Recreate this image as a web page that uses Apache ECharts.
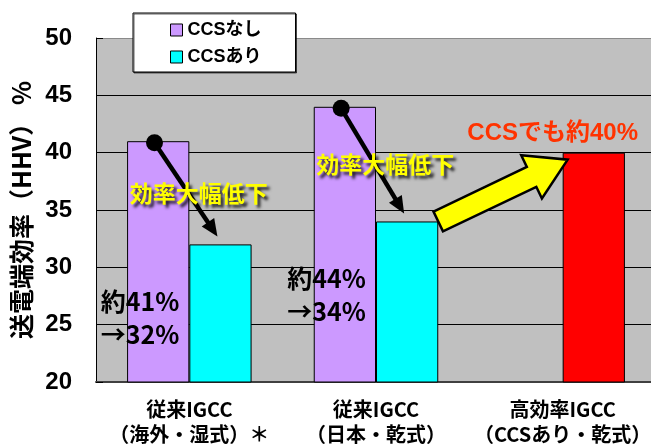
<!DOCTYPE html>
<html>
<head>
<meta charset="utf-8">
<script src="https://cdn.jsdelivr.net/npm/echarts@6/dist/echarts.min.js"></script>
<style>
  html, body { margin: 0; padding: 0; background: #fff; }
  #main { width: 651px; height: 446px; }
</style>
</head>
<body>
<div id="main"></div>
<script>
// Plant type categories (x axis)
const categories = ['従来IGCC\n（海外・湿式）＊', '従来IGCC\n（日本・乾式）', '高効率IGCC\n（CCSあり・乾式）'];
// Series names
const seriesNames = ['CCSなし', 'CCSあり'];
// Net efficiency (HHV, %) without CCS
const withoutCCS = [41, 44, null];
// Net efficiency (HHV, %) with CCS
const withCCS = [32, 34, 40];
// Y axis range
const yMin = 20, yMax = 50, yStep = 5;

const JP = '"Noto Sans CJK JP", sans-serif';
const LAT = '"Liberation Sans", "Noto Sans CJK JP", sans-serif';

const chart = echarts.init(document.getElementById('main'), null, { renderer: 'canvas' });

chart.setOption({
  animation: false,
  backgroundColor: '#ffffff',
  grid: {
    left: 96, top: 38, width: 560, height: 344,
    outerBoundsMode: 'none', containLabel: false,
    show: true, backgroundColor: '#C0C0C0', borderWidth: 0
  },
  legend: {
    data: seriesNames,
    orient: 'vertical',
    left: 133, top: 13,
    padding: [8, 34, 6, 37],
    itemWidth: 12, itemHeight: 12, itemGap: 9,
    icon: 'rect',
    backgroundColor: '#ffffff',
    borderColor: '#000000', borderWidth: 1,
    shadowColor: 'rgba(0,0,0,0.6)', shadowOffsetX: 1, shadowOffsetY: 1,
    itemStyle: { borderColor: '#000000', borderWidth: 1 },
    textStyle: { fontSize: 18, fontWeight: 'bold', fontFamily: LAT, color: '#000' }
  },
  xAxis: {
    type: 'category',
    data: categories,
    axisLine: { lineStyle: { color: '#404040', width: 2 } },
    axisTick: { inside: true, length: 7, lineStyle: { color: '#404040', width: 1.5 } },
    axisLabel: {
      interval: 0, margin: 15, color: '#000',
      fontSize: 20, fontWeight: 'bold', lineHeight: 25, fontFamily: JP
    },
    splitLine: { show: false }
  },
  yAxis: {
    type: 'value', min: yMin, max: yMax, interval: yStep,
    name: '送電端効率（HHV） %',
    nameLocation: 'middle', nameRotate: 90, nameGap: 61,
    nameTextStyle: { fontSize: 25, fontWeight: 'bold', fontFamily: JP, color: '#000' },
    axisLine: { show: true, lineStyle: { color: '#000', width: 1 } },
    axisTick: { show: true, inside: true, length: 7, lineStyle: { color: '#000' } },
    axisLabel: { fontSize: 24, fontWeight: 'bold', fontFamily: LAT, color: '#000', margin: 24 },
    splitLine: {
      lineStyle: { color: ['#000', '#000', '#000', '#000', '#000', '#000', '#8a8a8a'], width: 1 }
    }
  },
  series: [
    {
      name: seriesNames[0], type: 'bar',
      data: withoutCCS,
      barGap: 0, barCategoryGap: '33.3%',
      itemStyle: { color: '#CC99FF', borderColor: '#000', borderWidth: 1 }
    },
    {
      name: seriesNames[1], type: 'bar',
      data: withCCS.map((v, i) => i === 2 ? { value: v, itemStyle: { color: '#FF0000' } } : v),
      barGap: 0, barCategoryGap: '33.3%',
      itemStyle: { color: '#00FFFF', borderColor: '#000', borderWidth: 1 }
    }
  ]
});

// Annotation overlay placed from the axes' own scales
const cx = i => chart.convertToPixel({ xAxisIndex: 0 }, categories[i]);
const py = v => chart.convertToPixel({ yAxisIndex: 0 }, v);
const band = cx(1) - cx(0);
const barW = band / 3;
const leftBarX = i => cx(i) - barW / 2;
const rightBarX = i => cx(i) + barW / 2;

const graphics = [];

function blackArrow(S, T) {
  const dx = T[0] - S[0], dy = T[1] - S[1];
  const L = Math.hypot(dx, dy);
  const ux = dx / L, uy = dy / L, nx = -uy, ny = ux;
  const headL = 17, headW = 7.5;
  const bx = T[0] - ux * headL, by = T[1] - uy * headL;
  graphics.push({
    type: 'line', z: 100,
    shape: { x1: S[0], y1: S[1], x2: T[0] - ux * 12, y2: T[1] - uy * 12 },
    style: { stroke: '#000', lineWidth: 4.5 }
  });
  graphics.push({
    type: 'polygon', z: 100,
    shape: { points: [[T[0], T[1]], [bx + nx * headW, by + ny * headW], [bx - nx * headW, by - ny * headW]] },
    style: { fill: '#000' }
  });
  graphics.push({
    type: 'circle', z: 101,
    shape: { cx: S[0], cy: S[1], r: 8.5 },
    style: { fill: '#000' }
  });
}

for (let i = 0; i < categories.length; i++) {
  if (withoutCCS[i] == null) continue;
  const a = withoutCCS[i], b = withCCS[i];
  blackArrow([leftBarX(i) - 0.02 * band, py(a) + 1.5], [rightBarX(i) - 3, py(b) - 8]);

  graphics.push({
    type: 'text', z: 102,
    style: {
      text: '効率大幅低下', x: cx(i) + 0.05 * band, y: py((a + b) / 2),
      fill: '#FFFF00', font: 'bold 23px ' + JP,
      align: 'center', verticalAlign: 'middle',
      textShadowColor: 'rgba(0,0,0,0.85)', textShadowBlur: 3,
      textShadowOffsetX: 3, textShadowOffsetY: 3
    }
  });

  const tx = cx(i) - 0.475 * band, ty = py(b - 5);
  graphics.push({
    type: 'text', z: 102,
    style: { text: '約' + a + '%', x: tx, y: ty, fill: '#000', font: 'bold 25px ' + JP, align: 'left', verticalAlign: 'middle' }
  });
  graphics.push({
    type: 'text', z: 102,
    style: { text: '→' + b + '%', x: tx, y: ty + 33, fill: '#000', font: 'bold 25px ' + JP, align: 'left', verticalAlign: 'middle' }
  });
}

// Big yellow arrow from the dry-type CCS bar to the high-efficiency bar
(function () {
  const A = [rightBarX(1) + barW / 2, py(withCCS[1])];
  const B = [rightBarX(2) - barW / 2 + 5, py(withCCS[2]) + 7];
  const dx = B[0] - A[0], dy = B[1] - A[1];
  const L = Math.hypot(dx, dy);
  const ux = dx / L, uy = dy / L, nx = -uy, ny = ux;
  const sw = 11, hw = 24, hl = 40;
  const bx = B[0] - ux * hl, by = B[1] - uy * hl;
  graphics.push({
    type: 'polygon', z: 100,
    shape: {
      points: [
        [A[0] - nx * sw, A[1] - ny * sw],
        [bx - nx * sw, by - ny * sw],
        [bx - nx * hw, by - ny * hw],
        [B[0], B[1]],
        [bx + nx * hw, by + ny * hw],
        [bx + nx * sw, by + ny * sw],
        [A[0] + nx * sw, A[1] + ny * sw]
      ]
    },
    style: { fill: '#FFFF00', stroke: '#000', lineWidth: 2.5, lineJoin: 'miter' }
  });
})();

graphics.push({
  type: 'text', z: 102,
  style: {
    text: 'CCSでも約' + withCCS[2] + '%', x: cx(2) - 10, y: py(withCCS[2]) - 19,
    fill: '#FF3300', font: 'bold 24px ' + LAT, align: 'center', verticalAlign: 'middle'
  }
});

chart.setOption({ graphic: graphics });
</script>
</body>
</html>
